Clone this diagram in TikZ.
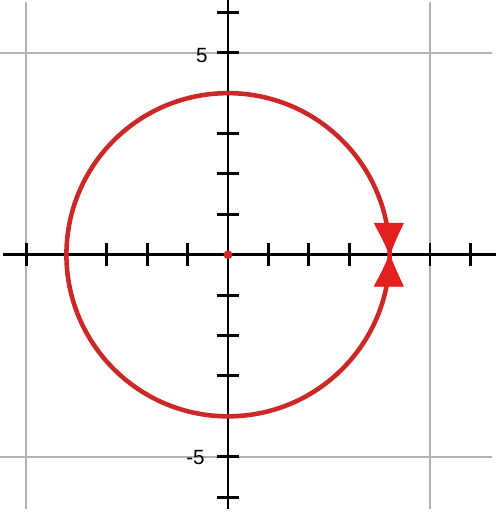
\documentclass[tikz,border=0pt]{standalone}
\usepackage{fontspec}
\setmainfont{Liberation Sans}
\definecolor{circred}{RGB}{204,40,40}
\definecolor{tipred}{RGB}{226,32,32}
\definecolor{gridgray}{RGB}{178,178,178}
\begin{document}
\begin{tikzpicture}[
  gridline/.style={gridgray, line width=1.7pt},
  axisline/.style={black, line width=2.1pt},
  tickmark/.style={black, line width=2.1pt},
  curve/.style={circred, line width=3.2pt},
  tiphead/.style={fill=tipred, draw=tipred, line width=0.5pt, line join=miter},
  ticklabel/.style={font=\fontsize{14.5}{16}\selectfont, inner sep=0pt, anchor=east}
]
\useasboundingbox (-5.644,-6.368) rectangle (6.634,6.306);
% grid lines
\draw[gridline] (-5,6.25) -- (-5,-6.3);
\draw[gridline] (5,6.25) -- (5,-6.3);
\draw[gridline] (-5.644,5) -- (6.53,5);
\draw[gridline] (-5.644,-5) -- (6.53,-5);
% axes
\draw[axisline] (-5.57,0) -- (6.634,0);
\draw[axisline] (0,6.306) -- (0,-6.3);
% ticks
\foreach \i in {-5,...,-1,1,2,...,6} {
  \draw[tickmark] (\i,0.28) -- (\i,-0.28);
}
\foreach \j in {-6,...,-1,1,2,...,6} {
  \draw[tickmark] (-0.28,\j) -- (0.28,\j);
}
% labels
\node[ticklabel] (lfive) at (-0.5,4.92) {5};
\node[ticklabel] (lmfive) at (-0.57,-5.03) {-5};
% circle
\draw[curve] (0,0) circle (4);
% arrowheads
\coordinate (tip) at (4,0);
\fill[tiphead] (tip) .. controls (3.85,0.35) .. (3.62,0.78) -- (4.34,0.78) .. controls (4.14,0.35) .. (tip) -- cycle;
\fill[tiphead] (tip) .. controls (3.85,-0.35) .. (3.62,-0.78) -- (4.34,-0.78) .. controls (4.14,-0.35) .. (tip) -- cycle;
% origin dot
\fill[circred] (0,0) circle (0.11);
\end{tikzpicture}
\end{document}
